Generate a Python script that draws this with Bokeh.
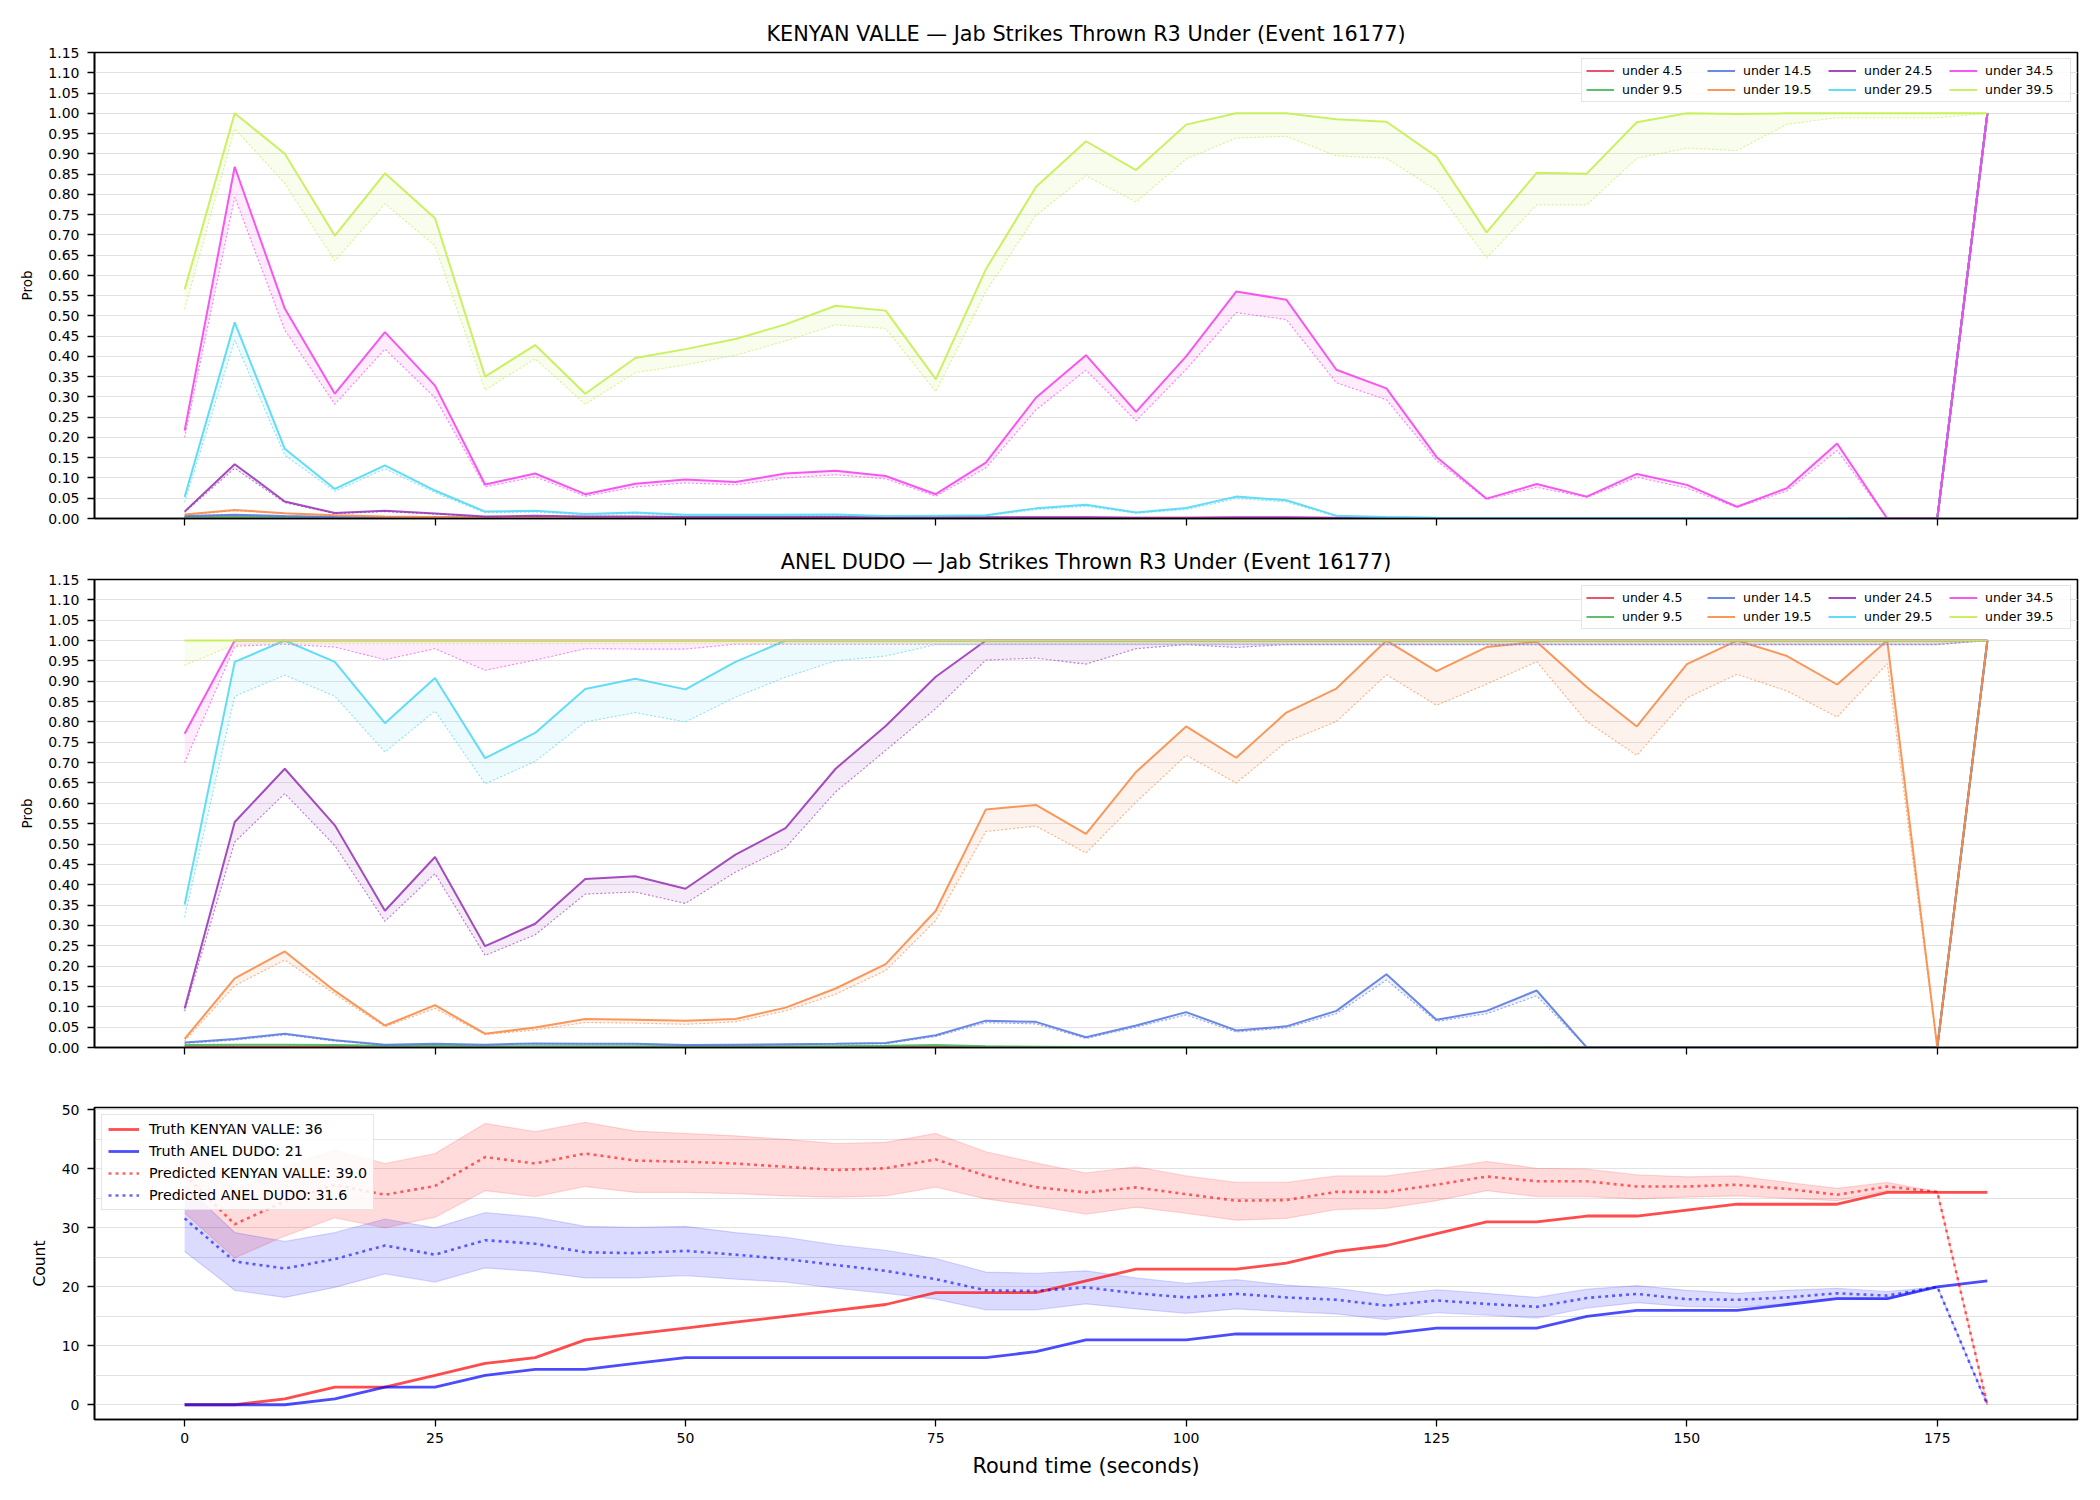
from bokeh.plotting import figure
from bokeh.layouts import column
from bokeh.models import FixedTicker, PrintfTickFormatter, Range1d, Legend, LegendItem
from bokeh.embed import file_html
from bokeh.resources import INLINE

FONT = "DejaVu Sans"

# round time (seconds), one sample every 5 s
seconds = list(range(0, 181, 5))

thresholds = ["under 4.5", "under 9.5", "under 14.5", "under 19.5",
              "under 24.5", "under 29.5", "under 34.5", "under 39.5"]
line_colors = ["#e8405a", "#4cb860", "#5b7be0", "#f88c48",
               "#9a38b8", "#52d8f5", "#f545ef", "#c3ef50"]

# ---------------- KENYAN VALLE: upper (solid) / lower (dotted) probability ----------------
valle_u4_hi = [0.002, 0.002, 0.001, 0.001, 0.001, 0.001, 0.001, 0.001, 0.001, 0.001,
               0.001, 0.001, 0.001, 0.001, 0.001, 0.001, 0.001, 0.001, 0.001, 0.001,
               0.001, 0.001, 0.001, 0.001, 0.001, 0.001, 0.001, 0.001, 0.001, 0.001,
               0.001, 0.001, 0.001, 0.001, 0.0, 0.0, 1.0]
valle_u4_lo = [0.001, 0.001, 0.001, 0.001, 0.001, 0.001, 0.001, 0.001, 0.001, 0.001,
               0.001, 0.001, 0.001, 0.001, 0.001, 0.001, 0.001, 0.001, 0.001, 0.001,
               0.001, 0.001, 0.001, 0.001, 0.001, 0.001, 0.001, 0.001, 0.001, 0.001,
               0.001, 0.001, 0.001, 0.001, 0.0, 0.0, 1.0]
valle_u9_hi = [0.004, 0.005, 0.004, 0.003, 0.002, 0.002, 0.002, 0.002, 0.002, 0.002,
               0.002, 0.002, 0.002, 0.002, 0.001, 0.001, 0.001, 0.001, 0.001, 0.001,
               0.001, 0.001, 0.001, 0.001, 0.001, 0.001, 0.001, 0.001, 0.001, 0.001,
               0.001, 0.001, 0.001, 0.001, 0.0, 0.0, 1.0]
valle_u9_lo = [0.003, 0.004, 0.003, 0.002, 0.002, 0.001, 0.001, 0.001, 0.001, 0.001,
               0.001, 0.001, 0.001, 0.001, 0.001, 0.001, 0.001, 0.001, 0.001, 0.001,
               0.001, 0.001, 0.001, 0.001, 0.001, 0.001, 0.001, 0.001, 0.001, 0.001,
               0.001, 0.001, 0.001, 0.001, 0.0, 0.0, 1.0]
valle_u14_hi = [0.006, 0.009, 0.006, 0.004, 0.003, 0.003, 0.002, 0.002, 0.002, 0.002,
                0.002, 0.002, 0.002, 0.002, 0.002, 0.002, 0.002, 0.002, 0.002, 0.001,
                0.001, 0.001, 0.001, 0.001, 0.001, 0.001, 0.001, 0.001, 0.001, 0.001,
                0.001, 0.001, 0.001, 0.001, 0.0, 0.0, 1.0]
valle_u14_lo = [0.005, 0.008, 0.005, 0.003, 0.002, 0.002, 0.002, 0.002, 0.002, 0.002,
                0.002, 0.002, 0.002, 0.002, 0.001, 0.001, 0.001, 0.001, 0.001, 0.001,
                0.001, 0.001, 0.001, 0.001, 0.001, 0.001, 0.001, 0.001, 0.001, 0.001,
                0.001, 0.001, 0.001, 0.001, 0.0, 0.0, 1.0]
valle_u19_hi = [0.010, 0.021, 0.013, 0.008, 0.005, 0.0035, 0.0025, 0.0025, 0.002, 0.002,
                0.002, 0.002, 0.002, 0.002, 0.002, 0.002, 0.002, 0.002, 0.002, 0.002,
                0.002, 0.002, 0.002, 0.001, 0.001, 0.001, 0.001, 0.001, 0.001, 0.001,
                0.001, 0.001, 0.001, 0.001, 0.0, 0.0, 1.0]
valle_u19_lo = [0.009, 0.019, 0.012, 0.007, 0.004, 0.003, 0.002, 0.002, 0.002, 0.002,
                0.002, 0.002, 0.002, 0.002, 0.002, 0.002, 0.002, 0.002, 0.001, 0.001,
                0.001, 0.001, 0.001, 0.001, 0.001, 0.001, 0.001, 0.001, 0.001, 0.001,
                0.001, 0.001, 0.001, 0.001, 0.0, 0.0, 1.0]
valle_u24_hi = [0.017, 0.134, 0.042, 0.0135, 0.019, 0.0125, 0.005, 0.0067, 0.005, 0.005,
                0.004, 0.004, 0.004, 0.004, 0.003, 0.003, 0.003, 0.003, 0.003, 0.002,
                0.002, 0.003, 0.003, 0.002, 0.002, 0.001, 0.001, 0.001, 0.001, 0.001,
                0.001, 0.001, 0.001, 0.001, 0.0, 0.0, 1.0]
valle_u24_lo = [0.015, 0.124, 0.039, 0.012, 0.017, 0.011, 0.004, 0.006, 0.004, 0.004,
                0.003, 0.003, 0.003, 0.003, 0.003, 0.002, 0.002, 0.002, 0.002, 0.002,
                0.002, 0.002, 0.002, 0.002, 0.001, 0.001, 0.001, 0.001, 0.001, 0.001,
                0.001, 0.001, 0.001, 0.001, 0.0, 0.0, 1.0]
valle_u29_hi = [0.053, 0.484, 0.172, 0.073, 0.131, 0.069, 0.017, 0.019, 0.011, 0.015,
                0.009, 0.009, 0.009, 0.010, 0.006, 0.007, 0.008, 0.025, 0.034, 0.015,
                0.026, 0.054, 0.045, 0.007, 0.004, 0.002, 0.001, 0.001, 0.001, 0.001,
                0.001, 0.001, 0.001, 0.001, 0.0, 0.0, 1.0]
valle_u29_lo = [0.040, 0.440, 0.156, 0.067, 0.1225, 0.064, 0.014, 0.016, 0.009, 0.012,
                0.007, 0.007, 0.007, 0.008, 0.005, 0.006, 0.006, 0.022, 0.030, 0.013,
                0.022, 0.049, 0.041, 0.005, 0.003, 0.001, 0.001, 0.001, 0.001, 0.001,
                0.001, 0.001, 0.001, 0.001, 0.0, 0.0, 1.0]
valle_u34_hi = [0.217, 0.868, 0.518, 0.308, 0.460, 0.328, 0.084, 0.111, 0.060, 0.086,
                0.096, 0.090, 0.111, 0.118, 0.105, 0.060, 0.138, 0.298, 0.403, 0.263,
                0.400, 0.560, 0.540, 0.367, 0.321, 0.152, 0.049, 0.085, 0.054, 0.110,
                0.083, 0.029, 0.075, 0.185, 0.0, 0.0, 1.0]
valle_u34_lo = [0.200, 0.793, 0.465, 0.282, 0.418, 0.298, 0.078, 0.103, 0.055, 0.078,
                0.088, 0.083, 0.100, 0.108, 0.098, 0.055, 0.125, 0.268, 0.366, 0.241,
                0.368, 0.508, 0.491, 0.335, 0.293, 0.143, 0.047, 0.077, 0.052, 0.102,
                0.075, 0.027, 0.068, 0.168, 0.0, 0.0, 1.0]
valle_u39_hi = [0.565, 1.0, 0.900, 0.698, 0.852, 0.741, 0.350, 0.428, 0.308, 0.396,
                0.418, 0.443, 0.479, 0.525, 0.513, 0.344, 0.615, 0.818, 0.931, 0.860,
                0.972, 1.0, 1.0, 0.985, 0.979, 0.893, 0.706, 0.853, 0.851, 0.978,
                1.0, 0.998, 1.0, 1.0, 1.0, 1.0, 1.0]
valle_u39_lo = [0.517, 0.962, 0.827, 0.636, 0.777, 0.673, 0.317, 0.394, 0.282, 0.360,
                0.379, 0.403, 0.438, 0.478, 0.469, 0.313, 0.560, 0.748, 0.846, 0.781,
                0.887, 0.939, 0.943, 0.895, 0.889, 0.810, 0.643, 0.774, 0.774, 0.889,
                0.914, 0.908, 0.973, 0.989, 0.989, 0.989, 1.0]

# ---------------- ANEL DUDO: upper (solid) / lower (dotted) probability ----------------
dudo_u4_hi = [0.002, 0.002, 0.002, 0.002, 0.001, 0.001, 0.001, 0.001, 0.001, 0.001,
              0.001, 0.001, 0.001, 0.001, 0.001, 0.001, 0.001, 0.001, 0.001, 0.001,
              0.001, 0.001, 0.001, 0.001, 0.001, 0.001, 0.001, 0.001, 0.0, 0.0,
              0.0, 0.0, 0.0, 0.0, 0.0, 0.0, 1.0]
dudo_u4_lo = [0.001, 0.001, 0.001, 0.001, 0.001, 0.001, 0.001, 0.001, 0.001, 0.001,
              0.001, 0.001, 0.001, 0.001, 0.001, 0.001, 0.001, 0.001, 0.001, 0.001,
              0.001, 0.001, 0.001, 0.001, 0.001, 0.001, 0.001, 0.001, 0.0, 0.0,
              0.0, 0.0, 0.0, 0.0, 0.0, 0.0, 1.0]
dudo_u9_hi = [0.006, 0.007, 0.007, 0.006, 0.004, 0.004, 0.003, 0.003, 0.003, 0.003,
              0.003, 0.003, 0.003, 0.003, 0.004, 0.006, 0.003, 0.002, 0.001, 0.001,
              0.001, 0.001, 0.001, 0.001, 0.001, 0.001, 0.001, 0.001, 0.0, 0.0,
              0.0, 0.0, 0.0, 0.0, 0.0, 0.0, 1.0]
dudo_u9_lo = [0.005, 0.006, 0.006, 0.005, 0.003, 0.003, 0.003, 0.002, 0.002, 0.002,
              0.002, 0.002, 0.002, 0.003, 0.003, 0.005, 0.003, 0.002, 0.001, 0.001,
              0.001, 0.001, 0.001, 0.001, 0.001, 0.001, 0.001, 0.001, 0.0, 0.0,
              0.0, 0.0, 0.0, 0.0, 0.0, 0.0, 1.0]
dudo_u14_hi = [0.012, 0.021, 0.034, 0.018, 0.007, 0.009, 0.007, 0.010, 0.009, 0.009,
               0.006, 0.007, 0.008, 0.009, 0.011, 0.030, 0.066, 0.063, 0.025, 0.054,
               0.087, 0.042, 0.052, 0.090, 0.180, 0.068, 0.090, 0.140, 0.0, 0.0,
               0.0, 0.0, 0.0, 0.0, 0.0, 0.0, 1.0]
dudo_u14_lo = [0.010, 0.018, 0.031, 0.016, 0.006, 0.008, 0.006, 0.009, 0.008, 0.008,
               0.005, 0.006, 0.007, 0.008, 0.009, 0.027, 0.061, 0.058, 0.022, 0.050,
               0.080, 0.038, 0.048, 0.083, 0.166, 0.064, 0.083, 0.127, 0.0, 0.0,
               0.0, 0.0, 0.0, 0.0, 0.0, 0.0, 1.0]
dudo_u19_hi = [0.021, 0.170, 0.236, 0.139, 0.054, 0.104, 0.034, 0.049, 0.070, 0.068,
               0.066, 0.070, 0.098, 0.145, 0.205, 0.336, 0.585, 0.596, 0.525, 0.677,
               0.789, 0.712, 0.823, 0.882, 1.0, 0.925, 0.984, 0.997, 0.886, 0.789,
               0.942, 1.0, 0.962, 0.892, 1.0, 0.0, 1.0]
dudo_u19_lo = [0.016, 0.152, 0.215, 0.131, 0.051, 0.096, 0.032, 0.043, 0.0615, 0.060,
               0.057, 0.063, 0.090, 0.131, 0.189, 0.312, 0.531, 0.544, 0.478, 0.603,
               0.718, 0.650, 0.751, 0.801, 0.916, 0.841, 0.893, 0.948, 0.801, 0.718,
               0.859, 0.917, 0.876, 0.812, 0.943, 0.0, 1.0]
dudo_u24_hi = [0.096, 0.554, 0.685, 0.546, 0.336, 0.468, 0.249, 0.304, 0.414, 0.421,
               0.390, 0.474, 0.539, 0.685, 0.790, 0.911, 1.0, 1.0, 1.0, 1.0,
               1.0, 1.0, 1.0, 1.0, 1.0, 1.0, 1.0, 1.0, 1.0, 1.0,
               1.0, 1.0, 1.0, 1.0, 1.0, 1.0, 1.0]
dudo_u24_lo = [0.089, 0.505, 0.624, 0.496, 0.310, 0.427, 0.226, 0.277, 0.377, 0.382,
               0.354, 0.431, 0.491, 0.628, 0.730, 0.833, 0.952, 0.957, 0.942, 0.980,
               0.990, 0.983, 0.990, 0.990, 0.990, 0.990, 0.990, 0.990, 0.990, 0.990,
               0.990, 0.990, 0.990, 0.990, 0.990, 0.990, 1.0]
dudo_u29_hi = [0.351, 0.9475, 1.0, 0.9475, 0.797, 0.908, 0.711, 0.773, 0.881, 0.906,
               0.880, 0.9475, 1.0, 1.0, 1.0, 1.0, 1.0, 1.0, 1.0, 1.0,
               1.0, 1.0, 1.0, 1.0, 1.0, 1.0, 1.0, 1.0, 1.0, 1.0,
               1.0, 1.0, 1.0, 1.0, 1.0, 1.0, 1.0]
dudo_u29_lo = [0.320, 0.863, 0.915, 0.863, 0.726, 0.827, 0.648, 0.703, 0.800, 0.823,
               0.800, 0.861, 0.910, 0.950, 0.962, 0.990, 0.990, 0.990, 0.990, 0.990,
               0.990, 0.990, 0.990, 0.990, 0.990, 0.990, 0.990, 0.990, 0.990, 0.990,
               0.990, 0.990, 0.990, 0.990, 0.990, 0.990, 1.0]
dudo_u34_hi = [0.771, 1.0, 1.0, 1.0, 1.0, 1.0, 1.0, 1.0, 1.0, 1.0,
               1.0, 1.0, 1.0, 1.0, 1.0, 1.0, 1.0, 1.0, 1.0, 1.0,
               1.0, 1.0, 1.0, 1.0, 1.0, 1.0, 1.0, 1.0, 1.0, 1.0,
               1.0, 1.0, 1.0, 1.0, 1.0, 1.0, 1.0]
dudo_u34_lo = [0.700, 0.986, 0.991, 0.984, 0.953, 0.980, 0.927, 0.952, 0.980, 0.979,
               0.979, 0.991, 0.991, 0.991, 0.991, 0.991, 0.991, 0.991, 0.991, 0.991,
               0.991, 0.991, 0.991, 0.991, 0.991, 0.991, 0.991, 0.991, 0.991, 0.991,
               0.991, 0.991, 0.991, 0.991, 0.991, 0.991, 1.0]
dudo_u39_hi = [1.0, 1.0, 1.0, 1.0, 1.0, 1.0, 1.0, 1.0, 1.0, 1.0,
               1.0, 1.0, 1.0, 1.0, 1.0, 1.0, 1.0, 1.0, 1.0, 1.0,
               1.0, 1.0, 1.0, 1.0, 1.0, 1.0, 1.0, 1.0, 1.0, 1.0,
               1.0, 1.0, 1.0, 1.0, 1.0, 1.0, 1.0]
dudo_u39_lo = [0.939, 0.990, 0.992, 0.992, 0.992, 0.992, 0.992, 0.992, 0.992, 0.992,
               0.992, 0.992, 0.992, 0.992, 0.992, 0.992, 0.992, 0.992, 0.992, 0.992,
               0.992, 0.992, 0.992, 0.992, 0.992, 0.992, 0.992, 0.992, 0.992, 0.992,
               0.992, 0.992, 0.992, 0.992, 0.992, 0.992, 1.0]

# ---------------- cumulative counts ----------------
truth_valle = [0, 0, 1, 3, 3, 5, 7, 8, 11, 12,
               13, 14, 15, 16, 17, 19, 19, 19, 21, 23,
               23, 23, 24, 26, 27, 29, 31, 31, 32, 32,
               33, 34, 34, 34, 36, 36, 36]
truth_dudo = [0, 0, 0, 1, 3, 3, 5, 6, 6, 7,
              8, 8, 8, 8, 8, 8, 8, 9, 11, 11,
              11, 12, 12, 12, 12, 13, 13, 13, 15, 16,
              16, 16, 17, 18, 18, 20, 21]
pred_valle = [39.0, 30.6, 34.5, 37.3, 35.6, 37.1, 42.0, 40.9, 42.6, 41.4,
              41.2, 40.9, 40.35, 39.8, 40.1, 41.6, 38.8, 36.9, 36.0, 36.85,
              35.7, 34.6, 34.7, 36.1, 36.1, 37.3, 38.7, 37.9, 37.9, 37.0,
              37.0, 37.3, 36.6, 35.6, 37.0, 36.1, 0.0]
pred_valle_hi = [45.5, 36.3, 40.4, 43.2, 40.9, 42.6, 47.7, 46.3, 47.9, 46.4,
                 46.0, 45.6, 45.0, 44.3, 44.5, 46.0, 42.9, 41.0, 39.3, 40.35,
                 38.8, 37.7, 37.7, 38.8, 38.8, 39.95, 41.25, 40.1, 39.95, 39.0,
                 38.65, 38.8, 37.7, 36.7, 37.7, 36.1, 0.0]
pred_valle_lo = [32.5, 24.9, 28.6, 31.7, 30.0, 31.8, 36.3, 35.3, 37.0, 36.0,
                 36.0, 35.8, 35.4, 35.2, 35.4, 36.9, 34.9, 33.7, 32.3, 33.5,
                 32.45, 31.3, 31.6, 33.1, 33.3, 34.6, 36.3, 35.3, 35.3, 34.9,
                 35.2, 35.4, 35.0, 34.6, 36.3, 36.1, 0.0]
pred_dudo = [31.6, 24.3, 23.1, 24.7, 27.0, 25.45, 27.9, 27.3, 25.85, 25.7,
             26.1, 25.45, 24.7, 23.7, 22.7, 21.3, 19.4, 19.3, 19.9, 18.9,
             18.2, 18.8, 18.2, 17.8, 16.8, 17.7, 17.1, 16.6, 18.1, 18.8,
             17.9, 17.8, 18.2, 18.9, 18.5, 20.0, 0.0]
pred_dudo_hi = [37.2, 29.2, 27.7, 29.2, 31.5, 30.0, 32.6, 31.8, 30.25, 30.1,
                30.25, 29.2, 28.4, 27.1, 26.2, 24.8, 22.5, 22.3, 22.7, 21.5,
                20.6, 21.2, 20.3, 19.75, 18.6, 19.5, 18.9, 18.2, 19.6, 20.2,
                19.4, 18.9, 19.4, 19.75, 19.2, 20.0, 0.0]
pred_dudo_lo = [26.0, 19.4, 18.2, 19.9, 22.2, 20.8, 23.2, 22.6, 21.5, 21.5,
                21.9, 21.3, 20.8, 19.75, 18.9, 17.9, 16.1, 16.1, 17.1, 16.25,
                15.5, 16.25, 15.8, 15.4, 14.45, 15.6, 15.2, 14.7, 16.4, 17.3,
                16.65, 16.5, 17.1, 18.1, 17.8, 20.0, 0.0]

valle_hi = [valle_u4_hi, valle_u9_hi, valle_u14_hi, valle_u19_hi,
            valle_u24_hi, valle_u29_hi, valle_u34_hi, valle_u39_hi]
valle_lo = [valle_u4_lo, valle_u9_lo, valle_u14_lo, valle_u19_lo,
            valle_u24_lo, valle_u29_lo, valle_u34_lo, valle_u39_lo]
dudo_hi = [dudo_u4_hi, dudo_u9_hi, dudo_u14_hi, dudo_u19_hi,
           dudo_u24_hi, dudo_u29_hi, dudo_u34_hi, dudo_u39_hi]
dudo_lo = [dudo_u4_lo, dudo_u9_lo, dudo_u14_lo, dudo_u19_lo,
           dudo_u24_lo, dudo_u29_lo, dudo_u34_lo, dudo_u39_lo]

X_TICKS = [0, 25, 50, 75, 100, 125, 150, 175]


def style_axes(p, show_xlabels):
    p.background_fill_color = "white"
    p.border_fill_color = "white"
    p.outline_line_color = "black"
    p.outline_line_width = 1.6
    p.outline_line_alpha = 1.0
    p.xgrid.grid_line_color = None
    p.ygrid.grid_line_color = "#e2e2e2"
    p.ygrid.grid_line_width = 1
    p.xaxis.ticker = FixedTicker(ticks=X_TICKS)
    for ax in (p.xaxis[0], p.yaxis[0]):
        ax.axis_line_color = "black"
        ax.axis_line_width = 1.6
        ax.major_tick_line_color = "black"
        ax.major_tick_line_width = 1.3
        ax.major_tick_out = 7
        ax.major_tick_in = 0
        ax.minor_tick_line_color = None
        ax.major_label_text_font = FONT
        ax.major_label_text_font_size = "14px"
        ax.major_label_text_color = "black"
        ax.axis_label_text_font = FONT
        ax.axis_label_text_font_style = "normal"
        ax.axis_label_text_color = "black"
    p.yaxis.major_label_standoff = 8
    p.yaxis.axis_label_standoff = 10
    if show_xlabels:
        p.xaxis.major_label_standoff = 6
        p.xaxis.axis_label_standoff = 8
    else:
        # shared time axis: tick marks only, numbers shown on the bottom panel
        p.xaxis.major_label_overrides = {t: "" for t in X_TICKS}
        p.xaxis.major_label_standoff = 0
    p.title.text_font = FONT
    p.title.text_font_size = "20.8px"
    p.title.text_font_style = "normal"
    p.title.align = "center"
    p.title.text_color = "black"


def prob_panel(name, hi_list, lo_list, height, top, bottom, standoff):
    p = figure(width=2100, height=height,
               x_range=Range1d(-9, 189), y_range=Range1d(0, 1.15),
               output_backend="svg", toolbar_location=None,
               min_border_left=94, min_border_right=23,
               min_border_top=top, min_border_bottom=bottom,
               title=f"{name} \u2014 Jab Strikes Thrown R3 Under (Event 16177)")
    style_axes(p, False)
    p.title.standoff = standoff
    p.yaxis.ticker = FixedTicker(ticks=[round(0.05 * k, 2) for k in range(24)])
    p.yaxis.formatter = PrintfTickFormatter(format="%.2f")
    p.yaxis.axis_label = "Prob"
    p.yaxis.axis_label_text_font_size = "13.5px"

    items = []
    for label, color, hi, lo in zip(thresholds, line_colors, hi_list, lo_list):
        p.varea(x=seconds, y1=lo, y2=hi, fill_color=color, fill_alpha=0.1)
        p.line(seconds, lo, line_color=color, line_width=1.1, line_alpha=0.65,
               line_dash="2 2")
        r = p.line(seconds, hi, line_color=color, line_width=2.0, line_alpha=0.9)
        items.append(LegendItem(label=label, renderers=[r]))

    legend = Legend(items=items, location="top_right", orientation="vertical",
                    nrows=2)
    legend.label_text_font = FONT
    legend.label_text_font_size = "12.5px"
    legend.label_text_color = "black"
    legend.glyph_width = 28
    legend.glyph_height = 15
    legend.label_height = 15
    legend.label_width = 81
    legend.label_standoff = 8
    legend.spacing = 4
    legend.padding = 4
    legend.margin = 6
    legend.border_line_color = "#cccccc"
    legend.border_line_width = 1.5
    legend.background_fill_alpha = 0.85
    p.add_layout(legend)
    return p


p1 = prob_panel("KENYAN VALLE", valle_hi, valle_lo, 538, 52, 20, 14)
p2 = prob_panel("ANEL DUDO", dudo_hi, dudo_lo, 538, 41, 29, 12)

# ---------------- count panel ----------------
p3 = figure(width=2100, height=424,
            x_range=Range1d(-9, 189), y_range=Range1d(-2.5, 50.4),
            output_backend="svg", toolbar_location=None,
            min_border_left=94, min_border_right=23,
            min_border_top=31, min_border_bottom=81)
style_axes(p3, True)
p3.xaxis.axis_label = "Round time (seconds)"
p3.xaxis.axis_label_text_font_size = "20.8px"
p3.yaxis.axis_label = "Count"
p3.yaxis.axis_label_text_font_size = "15.5px"
p3.yaxis.ticker = FixedTicker(ticks=[0, 10, 20, 30, 40, 50],
                              minor_ticks=[5, 15, 25, 35, 45])
p3.ygrid.minor_grid_line_color = "#e2e2e2"
p3.ygrid.minor_grid_line_width = 1

for lo, hi, c in ((pred_valle_lo, pred_valle_hi, "red"), (pred_dudo_lo, pred_dudo_hi, "blue")):
    p3.varea(x=seconds, y1=lo, y2=hi, fill_color=c, fill_alpha=0.14)
    p3.line(seconds, lo, line_color=c, line_alpha=0.14, line_width=1.2)
    p3.line(seconds, hi, line_color=c, line_alpha=0.14, line_width=1.2)

r_tv = p3.line(seconds, truth_valle, line_color="red", line_alpha=0.7, line_width=2.8)
r_td = p3.line(seconds, truth_dudo, line_color="blue", line_alpha=0.7, line_width=2.8)
r_pv = p3.line(seconds, pred_valle, line_color="red", line_alpha=0.6, line_width=2.6,
               line_dash="3 4")
r_pd = p3.line(seconds, pred_dudo, line_color="blue", line_alpha=0.6, line_width=2.6,
               line_dash="3 4")

legend3 = Legend(items=[
    LegendItem(label=f"Truth KENYAN VALLE: {truth_valle[-1]}", renderers=[r_tv]),
    LegendItem(label=f"Truth ANEL DUDO: {truth_dudo[-1]}", renderers=[r_td]),
    LegendItem(label=f"Predicted KENYAN VALLE: {pred_valle[0]:.1f}", renderers=[r_pv]),
    LegendItem(label=f"Predicted ANEL DUDO: {pred_dudo[0]:.1f}", renderers=[r_pd]),
], location="top_left")
legend3.label_text_font = FONT
legend3.label_text_font_size = "14.3px"
legend3.label_text_color = "black"
legend3.glyph_width = 31
legend3.glyph_height = 14
legend3.label_height = 14
legend3.label_standoff = 10
legend3.spacing = 6
legend3.padding = 6
legend3.margin = 7
legend3.border_line_color = "#cccccc"
legend3.border_line_width = 1.5
legend3.background_fill_alpha = 0.85
p3.add_layout(legend3)

layout = column(p1, p2, p3, spacing=0)
open("out.html", "w").write(file_html(layout, INLINE))
